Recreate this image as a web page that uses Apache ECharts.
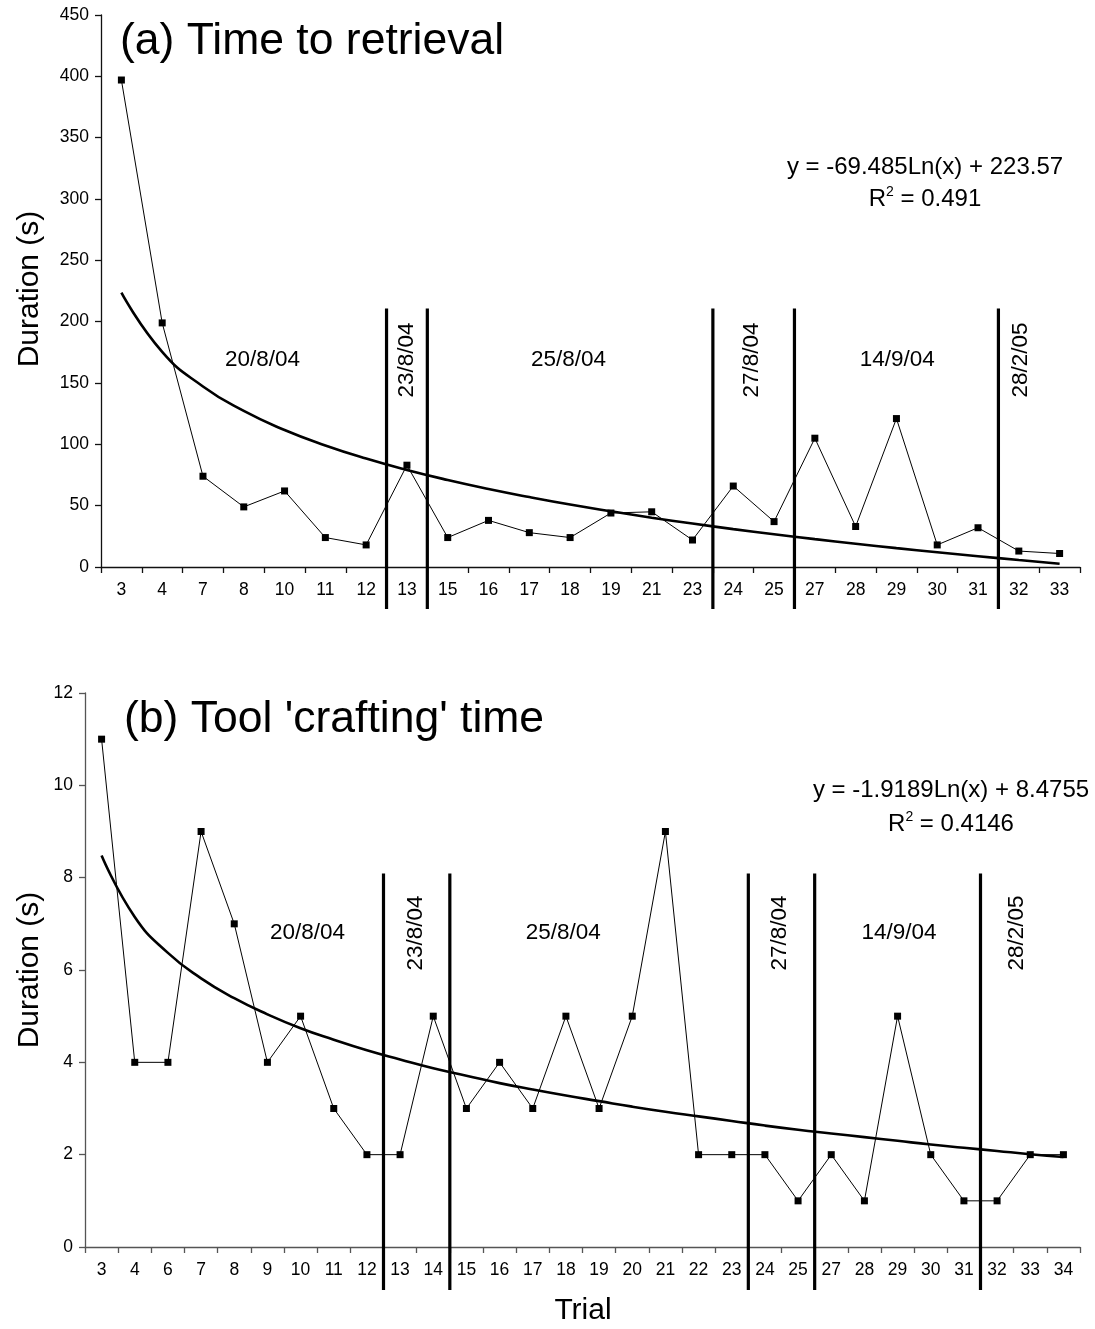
<!DOCTYPE html>
<html>
<head>
<meta charset="utf-8">
<script src="https://cdn.jsdelivr.net/npm/echarts@6/dist/echarts.min.js"></script>
<style>
html,body{margin:0;padding:0;background:#fff;}
#chart{width:1095px;height:1329px;}
</style>
</head>
<body>
<div id="chart"></div>
<script>
// ---- Data: panel (a) Time to retrieval ----
const trialsA = ['3','4','7','8','10','11','12','13','15','16','17','18','19','21','23','24','25','27','28','29','30','31','32','33'];
const durationA = [397,199,74,49,62,24,18,83,24,38,28,24,44,45,22,66,37,105,33,121,18,32,13,11];
const trendA = [223.6,175.4,147.2,127.2,111.7,99.1,88.4,79.1,70.9,63.6,57.0,50.9,45.4,40.2,35.4,30.9,26.7,22.7,19.0,15.4,12.0,8.8,5.7,2.7];
const sessionBreaksA = [7,8,15,17,22];
const sessionDatesA = ['20/8/04','23/8/04','25/8/04','27/8/04','14/9/04','28/2/05'];
const equationA = 'y = -69.485Ln(x) + 223.57';
const r2A = '0.491';

// ---- Data: panel (b) Tool 'crafting' time ----
const trialsB = ['3','4','6','7','8','9','10','11','12','13','14','15','16','17','18','19','20','21','22','23','24','25','27','28','29','30','31','32','33','34'];
const durationB = [11,4,4,9,7,4,5,3,2,2,5,3,4,3,5,3,5,9,2,2,2,1,2,1,5,2,1,1,2,2];
const trendB = [8.48,7.15,6.37,5.82,5.39,5.04,4.74,4.49,4.26,4.06,3.87,3.71,3.55,3.41,3.28,3.16,3.04,2.93,2.83,2.73,2.63,2.54,2.46,2.38,2.30,2.22,2.15,2.08,2.01,1.95];
const sessionBreaksB = [9,11,20,22,27];
const sessionDatesB = ['20/8/04','23/8/04','25/8/04','27/8/04','14/9/04','28/2/05'];
const equationB = 'y = -1.9189Ln(x) + 8.4755';
const r2B = '0.4146';

// ---- Layout (label placement in axis units) ----
const FONT = "'Liberation Sans', Arial, sans-serif";
const dateLayoutA = {x:[3.96,7.5,11.46,15.95,19.52,22.56], y:168.8, rot:[0,1,0,1,0,1], lineTop:210.7, lineBottom:-34.2};
const dateLayoutB = {x:[6.71,9.96,14.42,20.95,24.54,28.1], y:6.8, rot:[0,1,0,1,0,1], lineTop:8.09, lineBottom:-0.93};

const chart = echarts.init(document.getElementById('chart'), null, {renderer:'canvas'});

function panelAxes(gridIdx, cats, yMax, yInt, axisColor){
  const xCat = {
    type:'category', gridIndex:gridIdx, data:cats, boundaryGap:true,
    axisLine:{show:true, lineStyle:{color:axisColor, width:1.3}},
    axisTick:{show:true, alignWithLabel:false, interval:0, length:6, lineStyle:{color:axisColor, width:1.3}},
    axisLabel:{interval:0, margin:14, color:'#000', fontSize:17.5, fontFamily:FONT},
    splitLine:{show:false}
  };
  const xVal = {
    type:'value', gridIndex:gridIdx, min:0, max:cats.length, show:false, splitLine:{show:false}
  };
  const y = {
    type:'value', gridIndex:gridIdx, min:0, max:yMax, interval:yInt,
    axisLine:{show:true, lineStyle:{color:axisColor, width:1.3}},
    axisTick:{show:true, length:6, lineStyle:{color:axisColor, width:1.3}},
    axisLabel:{margin:12, color:'#000', fontSize:17.5, fontFamily:FONT},
    splitLine:{show:false}
  };
  return {xCat, xVal, y};
}

const axA = panelAxes(0, trialsA, 450, 50, '#111');
const axB = panelAxes(1, trialsB, 12, 2, '#555');

function panelSeries(xCatIdx, xValIdx, yIdx, vals, trend, breaks, dates, layout, symSize){
  const s = [];
  s.push({
    type:'line', xAxisIndex:xCatIdx, yAxisIndex:yIdx, data:trend, smooth:true, showSymbol:false,
    lineStyle:{color:'#000', width:2.6}, z:3, silent:true
  });
  s.push({
    type:'line', xAxisIndex:xCatIdx, yAxisIndex:yIdx, data:vals, symbol:'rect', symbolSize:symSize,
    itemStyle:{color:'#000'}, lineStyle:{color:'#000', width:1}, z:4, silent:true
  });
  breaks.forEach(b=>{
    s.push({
      type:'line', xAxisIndex:xValIdx, yAxisIndex:yIdx, clip:false, showSymbol:false, symbol:'none',
      data:[[b, layout.lineTop],[b, layout.lineBottom]],
      lineStyle:{color:'#000', width:3.2}, z:5, silent:true
    });
  });
  s.push({
    type:'scatter', xAxisIndex:xValIdx, yAxisIndex:yIdx, symbolSize:0, silent:true, z:6,
    itemStyle:{opacity:1, color:'#000'},
    data: dates.map((d,i)=>({
      value:[layout.x[i], layout.y], name:d,
      label:{show:true, position:'inside', formatter:d, rotate: layout.rot[i]?90:0, opacity:1,
             color:'#000', textBorderWidth:0, fontSize:22.5, fontFamily:FONT}
    }))
  });
  return s;
}

const series = [].concat(
  panelSeries(0, 1, 0, durationA, trendA, sessionBreaksA, sessionDatesA, dateLayoutA, 7),
  panelSeries(2, 3, 1, durationB, trendB, sessionBreaksB, sessionDatesB, dateLayoutB, 7)
);

chart.setOption({
  animation:false,
  backgroundColor:'#fff',
  grid:[
    {left:101, right:15, top:15, bottom:762, containLabel:false},
    {left:85, right:15, top:693, bottom:82, containLabel:false}
  ],
  xAxis:[axA.xCat, axA.xVal, axB.xCat, axB.xVal],
  yAxis:[axA.y, axB.y],
  title:[
    {text:'(a) Time to retrieval', left:120, top:19, textStyle:{fontSize:44.5, fontWeight:'normal', color:'#000', fontFamily:FONT}, padding:0},
    {text:"(b) Tool 'crafting' time", left:124, top:697, textStyle:{fontSize:44.5, fontWeight:'normal', color:'#000', fontFamily:FONT}, padding:0}
  ],
  graphic:[
    {type:'text', x:925, y:167, style:{text:equationA, font:'24px '+FONT, fill:'#000', textAlign:'center', textVerticalAlign:'middle'}},
    {type:'text', x:925, y:199, style:{text:'R{s|2} = '+r2A, font:'24px '+FONT, fill:'#000', textAlign:'center', textVerticalAlign:'middle',
      rich:{s:{fontSize:14, fontFamily:FONT, fill:'#000', padding:[0,0,14,0]}}}},
    {type:'text', x:951, y:790, style:{text:equationB, font:'24px '+FONT, fill:'#000', textAlign:'center', textVerticalAlign:'middle'}},
    {type:'text', x:951, y:824, style:{text:'R{s|2} = '+r2B, font:'24px '+FONT, fill:'#000', textAlign:'center', textVerticalAlign:'middle',
      rich:{s:{fontSize:14, fontFamily:FONT, fill:'#000', padding:[0,0,14,0]}}}},
    {type:'text', x:30, y:289, rotation:Math.PI/2, style:{text:'Duration (s)', font:'30px '+FONT, fill:'#000', textAlign:'center', textVerticalAlign:'middle'}},
    {type:'text', x:30, y:970, rotation:Math.PI/2, style:{text:'Duration (s)', font:'30px '+FONT, fill:'#000', textAlign:'center', textVerticalAlign:'middle'}},
    {type:'text', x:583, y:1311, style:{text:'Trial', font:'30px '+FONT, fill:'#000', textAlign:'center', textVerticalAlign:'middle'}}
  ],
  series: series
});
</script>
</body>
</html>
